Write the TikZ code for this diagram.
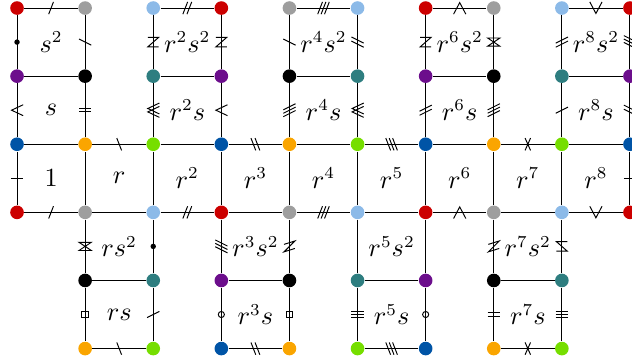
\documentclass[tikz,border=0pt]{standalone}
\usepackage{tikz}
\usetikzlibrary{positioning, calc}
\usepackage{amsmath, amssymb}
\definecolor{rosso}{RGB}{204,0,0}
\definecolor{grigio}{RGB}{158,158,158}
\definecolor{celeste}{RGB}{140,186,232}
\definecolor{blu}{RGB}{0,84,166}
\definecolor{arancio}{RGB}{250,165,0}
\definecolor{verde}{RGB}{118,222,0}
\definecolor{viola}{RGB}{108,14,140}
\definecolor{petrolio}{RGB}{46,126,128}

\tikzset{
  vertice/.style={circle, fill=#1, inner sep=0pt, minimum size=0.2cm},
  lato/.style={black, line width=0.4pt},
  segno/.style={black, line width=0.4pt},
  %segni sui lati orizzontali
  hs1/.pic={\draw[segno] (-0.035,-0.09) -- (0.035,0.09);},
  hs2/.pic={\foreach \d in {-0.03,0.03} \draw[segno] (\d-0.035,-0.09) -- (\d+0.035,0.09);},
  hs3/.pic={\foreach \d in {-0.05,0,0.05} \draw[segno] (\d-0.035,-0.09) -- (\d+0.035,0.09);},
  hb1/.pic={\draw[segno] (-0.035,0.09) -- (0.035,-0.09);},
  hb2/.pic={\foreach \d in {-0.03,0.03} \draw[segno] (\d-0.035,0.09) -- (\d+0.035,-0.09);},
  hb3/.pic={\foreach \d in {-0.05,0,0.05} \draw[segno] (\d-0.035,0.09) -- (\d+0.035,-0.09);},
  hup/.pic={\draw[segno] (-0.09,-0.09) -- (0,0.08) -- (0.09,-0.09);},
  hdown/.pic={\draw[segno] (-0.09,0.09) -- (0,-0.08) -- (0.09,0.09);},
  hx/.pic={\draw[segno] (-0.04,-0.09) -- (0.04,0.09) (-0.04,0.09) -- (0.04,-0.09);},
  %segni sui lati verticali
  vt1/.pic={\draw[segno] (-0.09,0) -- (0.09,0);},
  vt2/.pic={\foreach \d in {-0.025,0.025} \draw[segno] (-0.09,\d) -- (0.09,\d);},
  vt3/.pic={\foreach \d in {-0.05,0,0.05} \draw[segno] (-0.09,\d) -- (0.09,\d);},
  vs1/.pic={\draw[segno] (-0.09,-0.045) -- (0.09,0.045);},
  vs2/.pic={\foreach \d in {-0.03,0.03} \draw[segno] (-0.09,\d-0.045) -- (0.09,\d+0.045);},
  vs3/.pic={\foreach \d in {-0.05,0,0.05} \draw[segno] (-0.09,\d-0.045) -- (0.09,\d+0.045);},
  vb1/.pic={\draw[segno] (-0.09,0.045) -- (0.09,-0.045);},
  vb2/.pic={\foreach \d in {-0.03,0.03} \draw[segno] (-0.09,\d+0.045) -- (0.09,\d-0.045);},
  vb3/.pic={\foreach \d in {-0.05,0,0.05} \draw[segno] (-0.09,\d+0.045) -- (0.09,\d-0.045);},
  vlt/.pic={\draw[segno] (0.09,0.08) -- (-0.08,0) -- (0.09,-0.08);},
  vlt2/.pic={\foreach \d in {-0.025,0.025} \draw[segno] (0.09,\d+0.08) -- (-0.08,\d) -- (0.09,\d-0.08);},
  vz/.pic={\draw[segno] (-0.08,0.07) -- (0.08,0.07) -- (-0.08,-0.07) -- (0.08,-0.07);},
  vzr/.pic={\draw[segno] (0.08,0.07) -- (-0.08,0.07) -- (0.08,-0.07) -- (-0.08,-0.07);},
  vn/.pic={\draw[segno] (-0.08,0.03) -- (0.08,0.08) -- (-0.08,-0.08) -- (0.08,-0.03);},
  vhour/.pic={\draw[segno] (-0.09,0.06) -- (0.09,0.06) -- (-0.09,-0.06) -- (0.09,-0.06) -- cycle;},
  pallino/.pic={\fill (0,0) circle (0.04);},
  cerchio/.pic={\draw[segno] (0,0) circle (0.045);},
  quadro/.pic={\draw[segno] (-0.05,-0.05) rectangle (0.05,0.05);}
}

\begin{document}
\begin{tikzpicture}[every node/.append style={font=\fontsize{10.5}{12.5}\selectfont}]
        \useasboundingbox (-0.25,-2.176) rectangle (9.03,3.118);
        %vertici, colore secondo x mod 3
        \foreach \x in {0,...,9} {
          \pgfmathtruncatemacro\m{mod(\x,3)}
          \ifcase\m \def\ca{rosso}\def\cb{blu}\def\cc{viola}
          \or \def\ca{grigio}\def\cb{arancio}\def\cc{black}
          \or \def\ca{celeste}\def\cb{verde}\def\cc{petrolio}\fi
          \node[vertice=\ca] (c\x) at (\x,0) {};
          \node[vertice=\cb] (d\x) at (\x,1) {};
          \node[vertice=\cc] (e\x) at (\x,2) {};
          \node[vertice=\ca] (f\x) at (\x,3) {};
          \ifnum\x>0 \ifnum\x<9
            \node[vertice=\cc] (b\x) at (\x,-1) {};
            \node[vertice=\cb] (a\x) at (\x,-2) {};
          \fi\fi
        }
        %riga centrale
        \foreach \x [evaluate=\x as \y using int(\x+1)] in {0,...,8} {
          \draw[lato] (c\x) -- (c\y);
          \draw[lato] (d\x) -- (d\y);
        }
        \foreach \x in {0,...,9} \draw[lato] (c\x) -- (d\x);
        %quadrati sopra
        \foreach \x [evaluate=\x as \y using int(\x+1)] in {0,2,4,6,8} {
          \draw[lato] (d\x) -- (e\x) -- (f\x) -- (f\y) -- (e\y) -- (d\y);
          \draw[lato] (e\x) -- (e\y);
        }
        %quadrati sotto
        \foreach \x [evaluate=\x as \y using int(\x+1)] in {1,3,5,7} {
          \draw[lato] (c\x) -- (b\x) -- (a\x) -- (a\y) -- (b\y) -- (c\y);
          \draw[lato] (b\x) -- (b\y);
        }
        %etichette
        \foreach \x/\t in {0/1,1/r,2/r^2,3/r^3,4/r^4,5/r^5,6/r^6,7/r^7,8/r^8}
          \node (q\x) at (\x+0.5,0.5) {$\t$};
        \foreach \x/\p in {0/{},2/r^2,4/r^4,6/r^6,8/r^8} {
          \node (s\x) at (\x+0.5,1.5) {$\p s$};
          \node (ss\x) at (\x+0.5,2.5) {$\p s^2$};
        }
        \foreach \x/\p in {1/r,3/r^3,5/r^5,7/r^7} {
          \node (ss\x) at (\x+0.5,-0.5) {$\p s^2$};
          \node (s\x) at (\x+0.5,-1.5) {$\p s$};
        }
        %segni orizzontali
        \pic at (0.5,0) {hs1}; \pic at (0.5,3) {hs1};
        \pic at (1.5,1) {hb1}; \pic at (1.5,-2) {hb1};
        \pic at (2.5,0) {hs2}; \pic at (2.5,3) {hs2};
        \pic at (3.5,1) {hb2}; \pic at (3.5,-2) {hb2};
        \pic at (4.5,0) {hs3}; \pic at (4.5,3) {hs3};
        \pic at (5.5,1) {hb3}; \pic at (5.5,-2) {hb3};
        \pic at (6.5,0) {hup}; \pic at (6.5,3) {hup};
        \pic at (7.5,1) {hx}; \pic at (7.5,-2) {hx};
        \pic at (8.5,0) {hdown}; \pic at (8.5,3) {hdown};
        %segni verticali
        \pic at (0,0.5) {vt1}; \pic at (9,0.5) {vt1};
        \pic at (0,1.5) {vlt}; \pic at (1,1.5) {vt2};
        \pic at (0,2.5) {pallino}; \pic at (1,2.5) {vb1};
        \pic at (2,1.5) {vlt2}; \pic at (3,1.5) {vlt};
        \pic at (2,2.5) {vz}; \pic at (3,2.5) {vz};
        \pic at (4,1.5) {vs3}; \pic at (5,1.5) {vlt2};
        \pic at (4,2.5) {vb1}; \pic at (5,2.5) {vb2};
        \pic at (6,1.5) {vs2}; \pic at (7,1.5) {vs3};
        \pic at (6,2.5) {vz}; \pic at (7,2.5) {vhour};
        \pic at (8,1.5) {vs1}; \pic at (9,1.5) {vb2};
        \pic at (8,2.5) {vs2}; \pic at (9,2.5) {vb3};
        \pic at (1,-0.5) {vhour}; \pic at (2,-0.5) {pallino};
        \pic at (1,-1.5) {quadro}; \pic at (2,-1.5) {vs1};
        \pic at (3,-0.5) {vb3}; \pic at (4,-0.5) {vn};
        \pic at (3,-1.5) {cerchio}; \pic at (4,-1.5) {quadro};
        \pic at (5,-1.5) {vt3}; \pic at (6,-1.5) {cerchio};
        \pic at (7,-0.5) {vn}; \pic at (8,-0.5) {vzr};
        \pic at (7,-1.5) {vt2}; \pic at (8,-1.5) {vt3};
\end{tikzpicture}
\end{document}
